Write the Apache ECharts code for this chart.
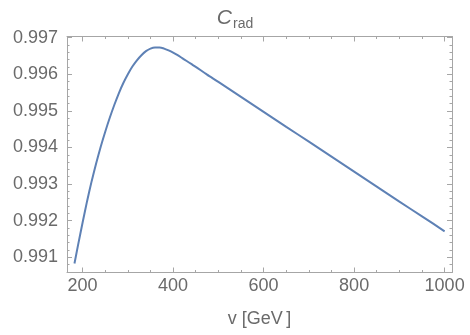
<!DOCTYPE html>
<html>
<head>
<meta charset="utf-8">
<script src="https://cdn.jsdelivr.net/npm/echarts@6/dist/echarts.min.js"></script>
<style>html,body{margin:0;padding:0;background:#fff}#c{width:470px;height:335px}</style>
</head>
<body>
<div id="c"></div>
<script>
// v [GeV]
const vValues = [182, 190, 200, 210, 220, 230, 240, 250, 260, 270, 280, 290, 300, 310, 320, 330, 340, 350, 360, 370, 380, 390, 400, 410, 420, 430, 440, 450, 475, 500, 550, 600, 650, 700, 750, 800, 850, 900, 950, 1000];
// C_rad
const cValues = [0.99083, 0.99134, 0.99195, 0.99254, 0.99308, 0.99357, 0.99402, 0.99443, 0.99481, 0.99516, 0.99548, 0.99576, 0.99600, 0.99621, 0.99638, 0.99652, 0.99663, 0.99670, 0.99673, 0.99673, 0.99670, 0.99665, 0.99659, 0.99652, 0.99644, 0.99636, 0.99628, 0.99620, 0.99599, 0.99579, 0.99538, 0.99497, 0.99456, 0.99416, 0.99375, 0.99334, 0.99293, 0.99252, 0.99212, 0.99171];
const xMajorTicks = [200, 400, 600, 800, 1000];
const xMinorTicks = [250, 300, 350, 450, 500, 550, 650, 700, 750, 850, 900, 950];
const yMajorTicks = [0.991, 0.992, 0.993, 0.994, 0.995, 0.996, 0.997];
const yMinorTicks = [0.9906, 0.9908, 0.9912, 0.9914, 0.9916, 0.9918, 0.9922, 0.9924, 0.9926, 0.9928, 0.9932, 0.9934, 0.9936, 0.9938, 0.9942, 0.9944, 0.9946, 0.9948, 0.9952, 0.9954, 0.9956, 0.9958, 0.9962, 0.9964, 0.9966, 0.9968];
const xRange = [165.5, 1016.3];
const yRange = [0.990585, 0.99703];

const frameColor = '#a6a6a6';
const textColor = '#6a6a6a';
const font = 'Liberation Sans, Arial, sans-serif';

function xAx(pos, values, len, labels, line) {
  return {
    type: 'value', position: pos, min: xRange[0], max: xRange[1],
    splitLine: {show: false},
    axisLine: {show: line, onZero: false, lineStyle: {color: frameColor, width: 1}},
    axisTick: {show: true, inside: true, length: len, customValues: values, lineStyle: {color: frameColor, width: 1}},
    axisLabel: labels ? {show: true, customValues: values, color: textColor, fontSize: 18, fontFamily: font, margin: 5, formatter: v => String(Math.round(v))} : {show: false}
  };
}
function yAx(pos, values, len, labels, line) {
  return {
    type: 'value', position: pos, min: yRange[0], max: yRange[1],
    splitLine: {show: false},
    axisLine: {show: line, onZero: false, lineStyle: {color: frameColor, width: 1}},
    axisTick: {show: true, inside: true, length: len, customValues: values, lineStyle: {color: frameColor, width: 1}},
    axisLabel: labels ? {show: true, customValues: values, color: textColor, fontSize: 18, fontFamily: font, margin: 9, formatter: v => v.toFixed(3)} : {show: false}
  };
}

const xa0 = xAx('bottom', xMajorTicks, 5, true, true);
xa0.name = 'v [GeV\u2009]';
xa0.nameLocation = 'middle';
xa0.nameGap = 38;
xa0.nameTextStyle = {color: textColor, fontSize: 18, fontFamily: font};

const chart = echarts.init(document.getElementById('c'), null, {renderer: 'canvas'});
chart.setOption({
  animation: false,
  backgroundColor: '#fff',
  title: {
    text: '{c|C}{s|rad}',
    left: 'center', top: 0,
    textStyle: {
      fontWeight: 'normal',
      rich: {
        c: {fontSize: 21, fontStyle: 'italic', fontWeight: 'normal', color: textColor, fontFamily: font, lineHeight: 26},
        s: {fontSize: 14, fontWeight: 'normal', color: textColor, fontFamily: font, lineHeight: 26, padding: [12, 0, 0, 1]}
      }
    }
  },
  grid: {left: 67, right: 18, top: 36.5, bottom: 62.5, containLabel: false},
  xAxis: [
    xa0,
    xAx('bottom', xMinorTicks, 2.5, false, false),
    xAx('top', xMajorTicks, 5, false, true),
    xAx('top', xMinorTicks, 2.5, false, false)
  ],
  yAxis: [
    yAx('left', yMajorTicks, 5, true, true),
    yAx('left', yMinorTicks, 2.5, false, false),
    yAx('right', yMajorTicks, 5, false, true),
    yAx('right', yMinorTicks, 2.5, false, false)
  ],
  series: [{
    type: 'line',
    xAxisIndex: 0, yAxisIndex: 0,
    data: vValues.map((v, i) => [v, cValues[i]]),
    showSymbol: false,
    smooth: 0.25,
    lineStyle: {color: '#5E81B5', width: 2}
  }]
});
</script>
</body>
</html>
